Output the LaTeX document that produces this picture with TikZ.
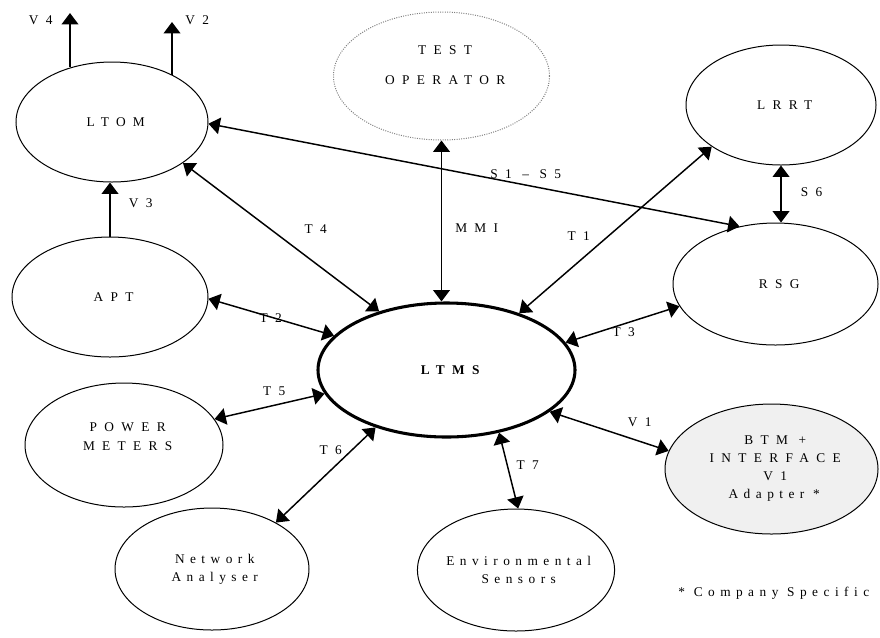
\documentclass[tikz,border=0pt]{standalone}
\usepackage{fontspec}
\setmainfont{Liberation Serif}
\newfontfamily\capsp[LetterSpace=55]{Liberation Serif}
\newfontfamily\lowsp[LetterSpace=41]{Liberation Serif}
\newcommand\CS[1]{{\capsp #1\kern-0.55em}}
\newcommand\LS[1]{{\lowsp #1\kern-0.41em}}
\usetikzlibrary{shapes.geometric,arrows.meta}
\definecolor{btmfill}{RGB}{240,240,240}
\begin{document}
\begin{tikzpicture}[x=0.75pt,y=-0.75pt,
  >={Triangle[width=12.5pt,length=8.5pt]},
  ell/.style={ellipse,draw,line width=0.75pt,inner sep=0pt},
  sz/.style 2 args={minimum width=#1*1.5pt,minimum height=#2*1.5pt},
  conn/.style={line width=1.1pt},
  txt/.style={font=\fontsize{10}{13.5}\selectfont,align=center,inner sep=0pt}]
\useasboundingbox (0,0) rectangle (880,637);

% ellipses
\node[ell,sz={96}{60},txt] (ltom) at (112,122) {\CS{LTOM}};
\node[ell,sz={108}{64},draw=gray,densely dotted] (test) at (441.5,76) {};
\node[txt] (testlbl) at (441.5,65) {\CS{TEST}\\[9pt]\CS{OPERATOR}};
\node[ell,sz={95}{60},txt] (lrrt) at (781,105) {\CS{LRRT}};
\node[ell,sz={102.5}{61},txt] (rsg) at (775.5,284) {\CS{RSG}};
\node[ell,sz={98}{60},txt] (apt) at (110,297) {\CS{APT}};
\node[ell,sz={128.5}{67},line width=2.3pt,txt] (ltms) at (446.5,370) {\CS{\bfseries LTMS}};
\node[ell,sz={99}{62}] (power) at (124,445) {};
\node[txt] (powerlbl) at (124,436.5) {\CS{POWER}\\[0.75pt]\CS{METERS}};
\node[ell,sz={97}{61},txt] (net) at (212,569) {\LS{Network}\\\LS{Analyser}};
\node[ell,sz={96}{61},txt] (env) at (516,570) {\LS{Environmental}\\\LS{Sensors}};
\node[ell,sz={106.5}{65},fill=btmfill,txt] (btm) at (771.5,469) {\CS{BTM +}\\\CS{INTERFACE}\\\CS{V1}\\\LS{Adapter *}};

% free ends
\coordinate (v4end) at (70,13);
\coordinate (v2end) at (172,22);

% connectors
\draw[conn,->] (v4end |- ltom.127.9) -- (v4end);
\draw[conn,->] (v2end |- ltom.38) -- (v2end);
\draw[conn,->] (apt.north) -- (apt.north |- ltom.south);
\draw[conn,<->] (ltom.-1.7) -- (rsg.122.4);
\draw[conn,<->] (ltom.-30.5) -- (ltms.139);
\draw[conn,<->] (test.south) -- (test.south |- ltms.north);
\draw[conn,<->] (ltms.38) -- (lrrt.211.2);
\draw[conn,<->] (lrrt.south) -- (lrrt.south |- rsg.north);
\draw[conn,<->] (apt.-1.8) -- (ltms.163);
\draw[conn,<->] (ltms.13.8) -- (rsg.193.4);
\draw[conn,<->] (power.16.2) -- (ltms.191.6);
\draw[conn,<->] (net.36.6) -- (ltms.219.8);
\draw[conn,<->] (ltms.-50.7) -- (env.88);
\draw[conn,<->] (ltms.-22.5) -- (btm.170);

% labels
\node[txt] (lv4) at (37,20) {\CS{V4}};
\node[txt] (lv2) at (193.5,20) {\CS{V2}};
\node[txt] (lv3) at (137,203) {\CS{V3}};
\node[txt] (ls15) at (522,174) {\CS{S1 – S5}};
\node[txt] (lt4) at (312,229) {\CS{T4}};
\node[txt] (lmmi) at (473,228) {\CS{MMI}};
\node[txt] (lt1) at (575,236) {\CS{T1}};
\node[txt] (ls6) at (808,192) {\CS{S6}};
\node[txt] (lt2) at (267,318) {\CS{T2}};
\node[txt] (lt3) at (620,332) {\CS{T3}};
\node[txt] (lt5) at (270.5,391) {\CS{T5}};
\node[txt] (lt6) at (327,450) {\CS{T6}};
\node[txt] (lt7) at (524,465.5) {\CS{T7}};
\node[txt] (lv1) at (636,422) {\CS{V1}};
\node[txt] (lcs) at (771,593) {\LS{* Company Specific}};
\end{tikzpicture}
\end{document}
